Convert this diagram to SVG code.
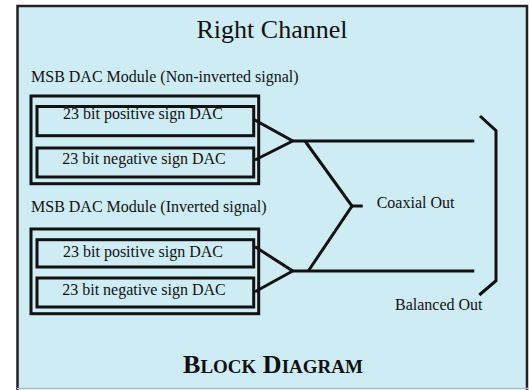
<svg xmlns="http://www.w3.org/2000/svg" width="530" height="390" viewBox="0 0 530 390">
<style>
text{font-family:'Liberation Serif','Times New Roman','DejaVu Serif',serif;fill:#111;}
.box{fill:none;stroke:#111;stroke-width:3;}
.ln{fill:none;stroke:#111;stroke-width:3;stroke-linejoin:miter;}
</style>
<rect x="0" y="0" width="530" height="390" fill="#ffffff"/>
<rect x="17" y="6" width="510" height="383" fill="#cdecf3"/>
<path d="M17.5,390 V6 H527 V390" fill="none" stroke="#222" stroke-width="2.5"/>
<line x1="17" y1="388.5" x2="528" y2="388.5" stroke="#a9bcc2" stroke-width="1.5"/>
<text font-family="Liberation Serif, serif" x="272" y="38" font-size="26" text-anchor="middle">Right Channel</text>

<g id="module1">
<text font-family="Liberation Serif, serif" x="31" y="82" font-size="16">MSB DAC Module (Non-inverted signal)</text>
<rect class="box" x="31" y="96" width="227.7" height="87.7"/>
</g>
<g id="dac1p">
<rect class="box" x="37" y="106.5" width="216.7" height="29.2"/>
<text font-family="Liberation Serif, serif" x="143" y="119.3" font-size="16" text-anchor="middle">23 bit positive sign DAC</text>
</g>
<g id="dac1n">
<rect class="box" x="37" y="148" width="216.7" height="29"/>
<text font-family="Liberation Serif, serif" x="144" y="164" font-size="16" text-anchor="middle">23 bit negative sign DAC</text>
</g>

<g id="module2">
<text font-family="Liberation Serif, serif" x="31" y="212.3" font-size="16">MSB DAC Module (Inverted signal)</text>
<rect class="box" x="31" y="229" width="227.7" height="84.7"/>
</g>
<g id="dac2p">
<rect class="box" x="37" y="239.7" width="216.7" height="27.3"/>
<text font-family="Liberation Serif, serif" x="143" y="256.7" font-size="16" text-anchor="middle">23 bit positive sign DAC</text>
</g>
<g id="dac2n">
<rect class="box" x="37" y="278" width="216.7" height="29"/>
<text font-family="Liberation Serif, serif" x="144" y="295" font-size="16" text-anchor="middle">23 bit negative sign DAC</text>
</g>

<g id="connectors">
<path class="ln" d="M253.5,119.3 L292.7,141 L255,160"/>
<path class="ln" d="M292.7,141 H474.3"/>
<path class="ln" d="M255,246.7 L292.7,271 L255,291.7"/>
<path class="ln" d="M292.7,271 H474.3"/>
<path class="ln" d="M305,141 L352,206 L308.3,271"/>
<path class="ln" d="M352,206 H362.7"/>
<path class="ln" d="M480,116 L496,130.7 V280.7 L479.3,295"/>
</g>

<g id="outputs">
<text font-family="Liberation Serif, serif" x="376.7" y="208" font-size="16">Coaxial Out</text>
<text font-family="Liberation Serif, serif" x="395" y="310" font-size="16">Balanced Out</text>
</g>

<text font-family="Liberation Serif, serif" x="273" y="373" text-anchor="middle" font-weight="bold"><tspan font-size="26">B</tspan><tspan font-size="19">LOCK</tspan><tspan font-size="26"> D</tspan><tspan font-size="19">IAGRAM</tspan></text>
</svg>
